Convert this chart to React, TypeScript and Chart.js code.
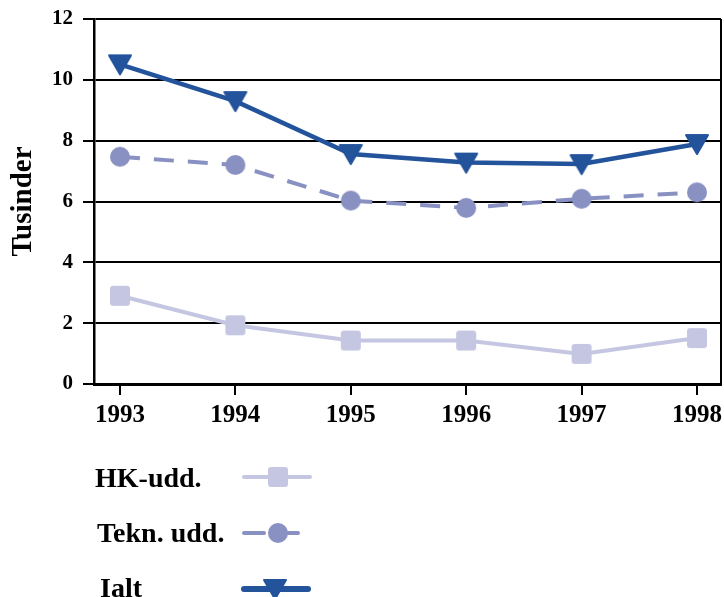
import React, { useEffect, useRef } from "react";
import { Chart, registerables } from "chart.js";

Chart.register(...registerables);

const years = [1993, 1994, 1995, 1996, 1997, 1998];
const hkUdd = [2.9, 1.93, 1.43, 1.43, 0.99, 1.51];
const teknUdd = [7.47, 7.2, 6.03, 5.79, 6.09, 6.3];
const ialt = [10.51, 9.3, 7.56, 7.28, 7.23, 7.89];
const yTicks = [0, 2, 4, 6, 8, 10, 12];
const seriesLabels = ["HK-udd.", "Tekn. udd.", "Ialt"];

const HK_COLOR = "#c5c7e2";
const TEKN_COLOR = "#8991c3";
const IALT_COLOR = "#23539b";

function makeSquare(): HTMLCanvasElement {
  const c = document.createElement("canvas");
  c.width = 22; c.height = 22;
  const g = c.getContext("2d")!;
  g.fillStyle = HK_COLOR;
  g.beginPath();
  (g as any).roundRect(1, 1, 20, 20, 3);
  g.fill();
  return c;
}
function makeCircle(): HTMLCanvasElement {
  const c = document.createElement("canvas");
  c.width = 22; c.height = 22;
  const g = c.getContext("2d")!;
  g.fillStyle = TEKN_COLOR;
  g.beginPath();
  g.arc(11, 11, 10, 0, Math.PI * 2);
  g.fill();
  return c;
}
function makeTriangle(): HTMLCanvasElement {
  const c = document.createElement("canvas");
  c.width = 26; c.height = 24;
  const g = c.getContext("2d")!;
  g.fillStyle = IALT_COLOR;
  g.strokeStyle = IALT_COLOR;
  g.lineJoin = "round";
  g.lineWidth = 2;
  g.beginPath();
  g.moveTo(2, 3);
  g.lineTo(24, 3);
  g.lineTo(13, 22);
  g.closePath();
  g.fill();
  g.stroke();
  return c;
}

export default function App() {
  const ref = useRef<HTMLCanvasElement | null>(null);
  useEffect(() => {
    document.body.style.margin = "0";
    const canvas = ref.current!;
    const sq = makeSquare();
    const ci = makeCircle();
    const tr = makeTriangle();

    const framePlugin = {
      id: "frame",
      beforeDatasetsDraw(chart: any) {
        const { ctx, chartArea } = chart;
        ctx.save();
        ctx.strokeStyle = "#000";
        ctx.lineWidth = 2;
        ctx.beginPath();
        ctx.moveTo(chartArea.right, chartArea.top);
        ctx.lineTo(chartArea.right, chartArea.bottom);
        ctx.stroke();
        ctx.restore();
      },
    };

    const legendPlugin = {
      id: "customLegend",
      afterDraw(chart: any) {
        const ctx = chart.ctx;
        ctx.save();
        ctx.font = "bold 28px 'Liberation Serif'";
        ctx.fillStyle = "#000";
        ctx.textBaseline = "alphabetic";
        ctx.textAlign = "left";
        const rows = [
          { text: seriesLabels[0], tx: 95, ty: 487, ly: 477, x0: 244, x1: 310, cx: 278, color: HK_COLOR, w: 4, dash: [] as number[], img: sq },
          { text: seriesLabels[1], tx: 97, ty: 542, ly: 533, x0: 244, x1: 298, cx: 278, color: TEKN_COLOR, w: 4, dash: [20, 14], img: ci },
          { text: seriesLabels[2], tx: 100, ty: 597, ly: 589, x0: 244, x1: 308, cx: 275, color: IALT_COLOR, w: 6, dash: [] as number[], img: tr },
        ];
        for (const r of rows) {
          ctx.fillText(r.text, r.tx, r.ty);
          ctx.strokeStyle = r.color;
          ctx.lineWidth = r.w;
          ctx.lineCap = "round";
          ctx.setLineDash(r.dash);
          ctx.beginPath();
          ctx.moveTo(r.x0, r.ly);
          ctx.lineTo(r.x1, r.ly);
          ctx.stroke();
          ctx.setLineDash([]);
          ctx.drawImage(r.img, r.cx - r.img.width / 2, r.ly - r.img.height / 2);
        }
        ctx.restore();
      },
    };

    const chart = new Chart(canvas, {
      type: "line",
      data: {
        datasets: [
          {
            label: seriesLabels[0],
            data: years.map((y, i) => ({ x: y, y: hkUdd[i] })),
            borderColor: HK_COLOR,
            backgroundColor: HK_COLOR,
            borderWidth: 4,
            pointStyle: sq as any,
            pointRadius: 10,
            tension: 0,
          },
          {
            label: seriesLabels[1],
            data: years.map((y, i) => ({ x: y, y: teknUdd[i] })),
            borderColor: TEKN_COLOR,
            backgroundColor: TEKN_COLOR,
            borderWidth: 4,
            borderDash: [20, 14],
            pointStyle: ci as any,
            pointRadius: 10,
            tension: 0,
          },
          {
            label: seriesLabels[2],
            data: years.map((y, i) => ({ x: y, y: ialt[i] })),
            borderColor: IALT_COLOR,
            backgroundColor: IALT_COLOR,
            borderWidth: 4.5,
            pointStyle: tr as any,
            pointRadius: 12,
            tension: 0,
          },
        ],
      },
      options: {
        animation: false,
        responsive: false,
        layout: { autoPadding: false, padding: { top: 19, right: 3, left: 0, bottom: 0 } },
        plugins: { legend: { display: false }, tooltip: { enabled: false } },
        scales: {
          x: {
            type: "linear",
            min: 1992.775,
            max: 1998.208,
            afterBuildTicks: (s: any) => {
              s.ticks = years.map((v) => ({ value: v }));
            },
            afterFit: (s: any) => {
              s.height = 597 - 384;
              s.paddingLeft = 0;
              s.paddingRight = 0;
            },
            ticks: {
              callback: (v: any) => String(v),
              color: "#000",
              font: { family: "'Liberation Serif'", size: 25, weight: "bold" },
              padding: 6,
              maxRotation: 0,
              autoSkip: false,
            },
            grid: { drawOnChartArea: false, drawTicks: true, tickLength: 11, color: "#000", lineWidth: 2 },
            border: { display: true, color: "#000", width: 3 },
          },
          y: {
            min: 0,
            max: 12,
            afterBuildTicks: (s: any) => {
              s.ticks = yTicks.map((v) => ({ value: v }));
            },
            afterFit: (s: any) => {
              s.width = 94;
              s.paddingTop = 0;
              s.paddingBottom = 0;
            },
            ticks: {
              color: "#000",
              font: { family: "'Liberation Serif'", size: 21, weight: "bold" },
              padding: 10,
            },
            grid: { color: "#000", lineWidth: 2, tickLength: 11, drawTicks: true },
            border: { display: true, color: "#000", width: 2.5 },
            title: {
              display: true,
              text: "Tusinder",
              color: "#000",
              font: { family: "'Liberation Serif'", size: 29, weight: "bold" },
              padding: { top: 6, bottom: 0 },
            },
          },
        },
      },
      plugins: [framePlugin, legendPlugin],
    });
    return () => chart.destroy();
  }, []);
  return (
    <div style={{ width: 724, height: 597 }}>
      <canvas ref={ref} width={724} height={597} style={{ display: "block" }} />
    </div>
  );
}
